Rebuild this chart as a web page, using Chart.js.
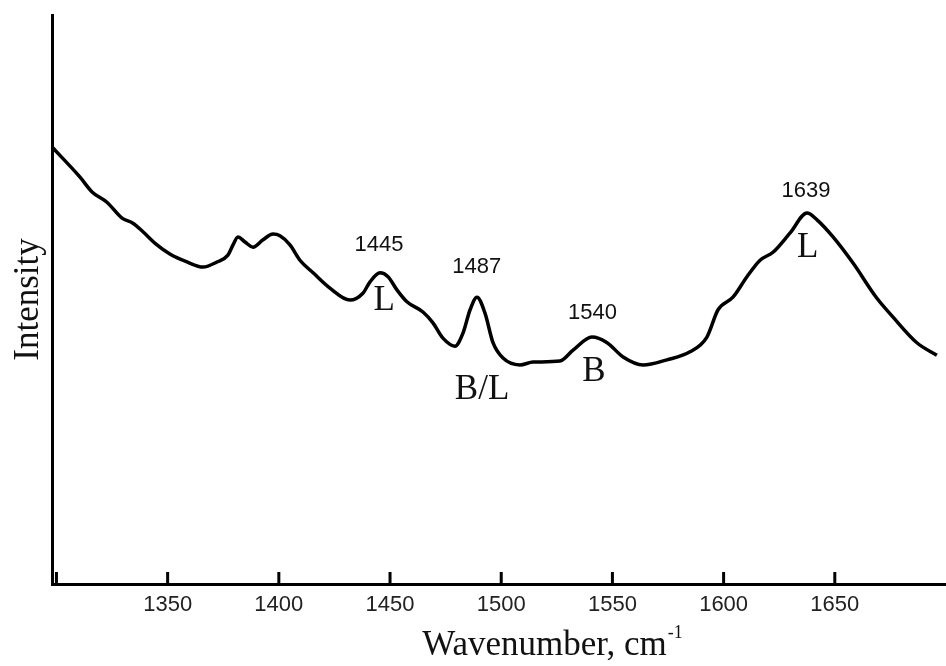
<!DOCTYPE html>
<html lang="en">
<head>
    <meta charset="UTF-8">
    <title>Raman spectrum</title>
    <script src="https://cdn.jsdelivr.net/npm/chart.js"></script>
    <style>
        html, body {
            margin: 0;
            padding: 0;
            background: #fff;
            overflow: hidden;
        }
        #chart-container {
            width: 946px;
            height: 666px;
        }
    </style>
</head>
<body>
    <div id="chart-container">
        <canvas id="spectrum-chart"></canvas>
    </div>

    <script>
        // spectrum (wavenumber in cm-1, intensity in arbitrary units 0-100)
        const wavenumbers = [
            1298, 1310.6, 1316.0, 1322.7, 1329.5, 1334.4, 1338.9, 1345.2, 1351.0, 1358.7,
            1365.9, 1372.2, 1377.1, 1379.4, 1381.6, 1384.8, 1388.4, 1392.9, 1397.4, 1400.5,
            1405.0, 1409.5, 1415.4, 1423.0, 1432.0, 1437.8, 1441.0, 1445.5, 1449.1, 1453.1,
            1457.6, 1464.8, 1469.3, 1473.8, 1479.2, 1482.8, 1486.0, 1489.1, 1492.7, 1496.3,
            1500.8, 1508.4, 1514.3, 1526.4, 1532.3, 1540.8, 1547.6, 1554.8, 1563.8, 1574.5,
            1584.9, 1592.5, 1597.5, 1604.2, 1610.5, 1616.4, 1622.2, 1629.9, 1637.5, 1642.0,
            1649.2, 1658.2, 1668.6, 1676.2, 1686.9, 1695.9
        ];
        const intensity = [
            76.8, 71.5, 68.9, 67.1, 64.3, 63.4, 61.9, 59.6, 58.0, 56.6,
            55.7, 56.6, 57.8, 59.6, 61.0, 60.1, 59.2, 60.5, 61.5, 61.2,
            59.6, 56.9, 54.7, 52.0, 49.9, 51.1, 53.1, 54.7, 54.0, 51.7,
            49.6, 47.8, 45.9, 43.2, 41.8, 44.1, 48.2, 50.4, 47.6, 42.4,
            39.7, 38.5, 39.0, 39.2, 41.1, 43.4, 42.4, 39.9, 38.5, 39.4,
            40.8, 43.4, 48.2, 50.4, 54.0, 56.9, 58.3, 61.7, 65.2, 64.0,
            61.0, 56.4, 50.4, 46.9, 42.4, 40.2
        ];

        const tickValues = [1300, 1350, 1400, 1450, 1500, 1550, 1600, 1650];
        const labelledTicks = [1350, 1400, 1450, 1500, 1550, 1600, 1650];

        // peak annotations: number above, band assignment below
        const peakNames = ['1445', '1487', '1540', '1639'];
        const peakNameX = [1445, 1489, 1541, 1637];
        const peakNameY = [59.6, 55.7, 47.6, 69.1];
        const bandNames = ['L', 'B/L', 'B', 'L'];
        const bandNameX = [1447.4, 1491.4, 1541.7, 1637.8];
        const bandNameY = [49.7, 34.1, 37.3, 59.1];

        const SANS = '"Liberation Sans", Arial, sans-serif';
        const SERIF = '"Liberation Serif", "Times New Roman", serif';

        const decorations = {
            id: 'decorations',
            afterDraw(chart) {
                const ctx = chart.ctx;
                const x = chart.scales.x;
                const y = chart.scales.y;
                const area = chart.chartArea;
                ctx.save();

                // inward tick marks on the x axis
                ctx.strokeStyle = '#000';
                ctx.lineWidth = 3;
                tickValues.forEach(v => {
                    const px = x.getPixelForValue(v);
                    ctx.beginPath();
                    ctx.moveTo(px, area.bottom);
                    ctx.lineTo(px, area.bottom - 12);
                    ctx.stroke();
                });

                ctx.fillStyle = '#111';
                ctx.textAlign = 'center';
                ctx.textBaseline = 'middle';

                ctx.font = '22px ' + SANS;
                peakNames.forEach((t, i) => {
                    ctx.fillText(t, x.getPixelForValue(peakNameX[i]), y.getPixelForValue(peakNameY[i]));
                });

                ctx.font = '35px ' + SERIF;
                bandNames.forEach((t, i) => {
                    ctx.fillText(t, x.getPixelForValue(bandNameX[i]), y.getPixelForValue(bandNameY[i]));
                });

                // x axis title with superscript
                const main = 'Wavenumber, cm';
                const sup = '-1';
                ctx.font = '35px ' + SERIF;
                const mainW = ctx.measureText(main).width;
                ctx.font = '18px ' + SERIF;
                const supW = ctx.measureText(sup).width;
                const cx = (area.left + area.right) / 2 + 53;
                const startX = cx - (mainW + supW) / 2;
                const base = 655;
                ctx.textAlign = 'left';
                ctx.textBaseline = 'alphabetic';
                ctx.font = '35px ' + SERIF;
                ctx.fillText(main, startX, base);
                ctx.font = '18px ' + SERIF;
                ctx.fillText(sup, startX + mainW + 1, base - 17);

                ctx.restore();
            }
        };

        const ctx = document.getElementById('spectrum-chart').getContext('2d');
        new Chart(ctx, {
            type: 'line',
            data: {
                datasets: [{
                    data: wavenumbers.map((w, i) => ({ x: w, y: intensity[i] })),
                    borderColor: '#000',
                    borderWidth: 3.5,
                    pointRadius: 0,
                    fill: false,
                    cubicInterpolationMode: 'monotone'
                }]
            },
            options: {
                responsive: true,
                maintainAspectRatio: false,
                animation: false,
                layout: {
                    padding: { top: 15, right: 0, bottom: 0, left: 0 }
                },
                plugins: {
                    legend: { display: false },
                    tooltip: { enabled: false }
                },
                scales: {
                    x: {
                        type: 'linear',
                        min: 1298,
                        max: 1700,
                        afterBuildTicks: scale => {
                            scale.ticks = tickValues.map(v => ({ value: v }));
                        },
                        afterFit: scale => {
                            scale.height = 82;
                            scale.paddingLeft = 0;
                            scale.paddingRight = 0;
                        },
                        grid: { display: false, drawTicks: false },
                        border: { display: true, color: '#000', width: 3 },
                        ticks: {
                            autoSkip: false,
                            maxRotation: 0,
                            padding: 8,
                            color: '#222',
                            font: { family: SANS, size: 22 },
                            callback: v => labelledTicks.includes(v) ? String(v) : ''
                        }
                    },
                    y: {
                        min: 0,
                        max: 100,
                        afterFit: scale => { scale.width = 52; },
                        grid: { display: false, drawTicks: false },
                        border: { display: true, color: '#000', width: 3 },
                        ticks: { display: false },
                        title: {
                            display: true,
                            text: 'Intensity',
                            color: '#111',
                            padding: { top: 8, bottom: 0 },
                            font: { family: SERIF, size: 35 }
                        }
                    }
                }
            },
            plugins: [decorations]
        });
    </script>
</body>
</html>
